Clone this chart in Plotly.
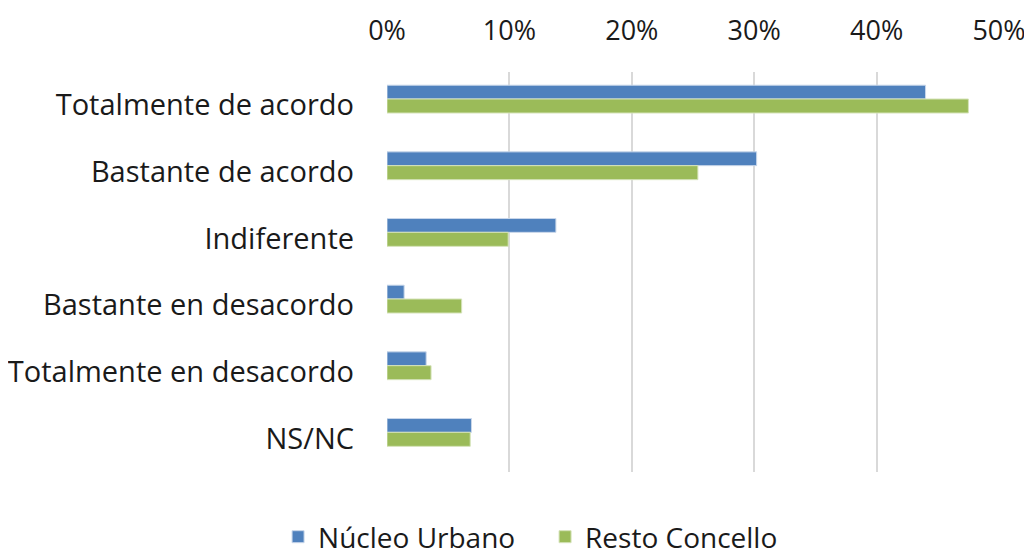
import plotly.graph_objects as go

categories = ["Totalmente de acordo", "Bastante de acordo", "Indiferente",
              "Bastante en desacordo", "Totalmente en desacordo", "NS/NC"]
nucleo_urbano = [0.44, 0.302, 0.138, 0.014, 0.032, 0.069]
resto_concello = [0.475, 0.254, 0.099, 0.061, 0.036, 0.068]
tick_vals = [0, 0.1, 0.2, 0.3, 0.4, 0.5]
tick_text = ["0%", "10%", "20%", "30%", "40%", "50%"]

FONT = "Open Sans"

fig = go.Figure()
fig.add_trace(go.Bar(name="Núcleo Urbano", y=categories, x=nucleo_urbano, orientation="h",
                     width=0.207, offset=-0.302,
                     marker=dict(color="#4F81BD", line=dict(color="#C9D7EA", width=1))))
fig.add_trace(go.Bar(name="Resto Concello", y=categories, x=resto_concello, orientation="h",
                     width=0.21, offset=-0.095,
                     marker=dict(color="#9BBB59", line=dict(color="#D5E3B9", width=1))))

fig.update_layout(
    width=1032, height=554,
    margin=dict(l=379, r=41, t=64, b=90, autoexpand=False),
    paper_bgcolor="white", plot_bgcolor="white",
    barmode="group",
    font=dict(family=FONT, size=29, color="#1a1a1a"),
    legend=dict(orientation="h", x=-0.178, xanchor="left", y=-0.1625, yanchor="middle",
                font=dict(size=28), traceorder="normal", entrywidth=222),
    showlegend=True,
)
fig.update_xaxes(side="top", range=[0, 0.5], tickvals=tick_vals, ticktext=tick_text,
                 showgrid=True, gridcolor="#D9D9D9", gridwidth=2, zeroline=False,
                 showline=False, ticks="", ticklabelstandoff=26, automargin=False,
                 tickfont=dict(size=27))
fig.update_yaxes(autorange="reversed", showgrid=False, zeroline=False, showline=False,
                 ticks="", ticklabelstandoff=32, automargin=False, tickfont=dict(size=29))

fig.write_html("out.html")
